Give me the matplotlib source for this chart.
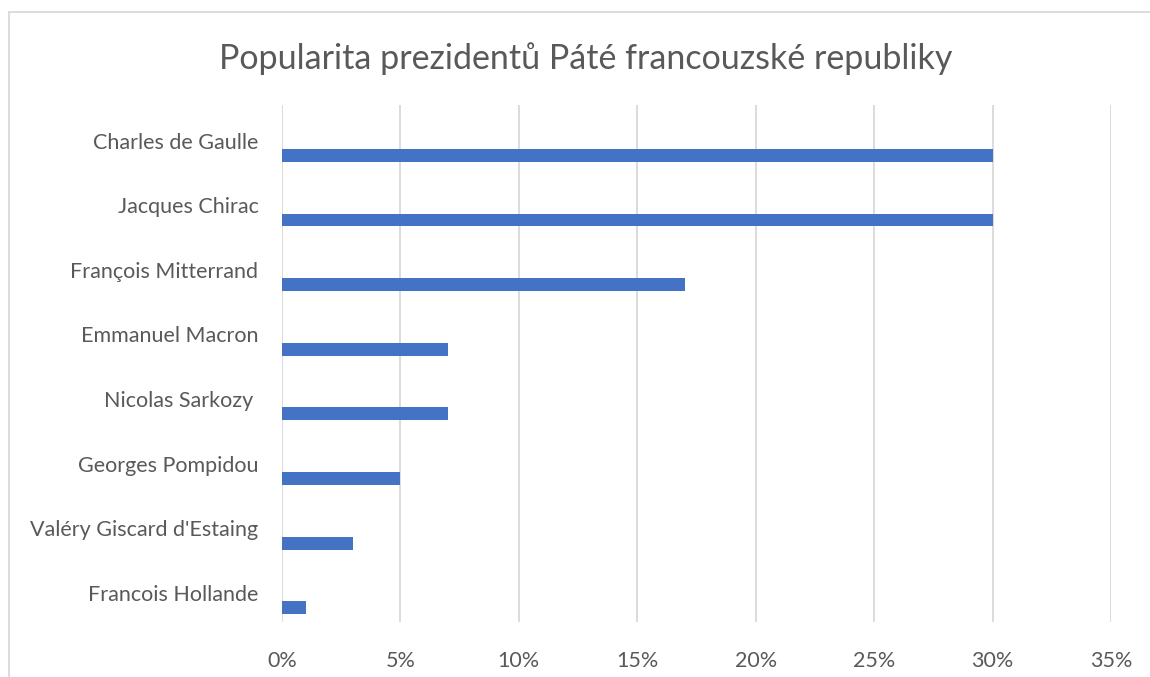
import matplotlib
matplotlib.use("Agg")
import matplotlib.pyplot as plt
from matplotlib.patches import Rectangle
from matplotlib.ticker import FuncFormatter

names = ["Charles de Gaulle", "Jacques Chirac", "François Mitterrand", "Emmanuel Macron",
         "Nicolas Sarkozy ", "Georges Pompidou", "Valéry Giscard d'Estaing", "Francois Hollande"]
values = [30, 30, 17, 7, 7, 5, 3, 1]
xticks = [0, 5, 10, 15, 20, 25, 30, 35]
title = "Popularita prezidentů Páté francouzské republiky"

plt.rcParams['font.family'] = ['Lato', 'DejaVu Sans']
W, H = 1150, 677
fig = plt.figure(figsize=(W / 100, H / 100), dpi=100)
fig.patch.set_facecolor('white')

# chart border (left and top visible; right/bottom run off the image)
fig.patches.append(Rectangle((9 / W, -0.01), 1.05, 1 - 12 / H + 0.01,
                             transform=fig.transFigure, fill=False,
                             edgecolor='#d9d9d9', linewidth=1.3))

left, right, top, bottom = 282, 1111, 105, 622
ax = fig.add_axes([left / W, 1 - bottom / H, (right - left) / W, (bottom - top) / H])

n = len(names)
pos = list(range(n))  # 0 at top
ax.barh([p + 0.28 for p in pos], values, height=0.2, color='#4472C4', zorder=3)
ax.set_ylim(n - 0.5, -0.5)
ax.set_xlim(0, 35)
ax.set_yticks([p + 0.05 for p in pos])
ax.set_yticklabels(names)
ax.set_xticks(xticks)
ax.xaxis.set_major_formatter(FuncFormatter(lambda v, _: f"{int(v)}%"))
ax.tick_params(axis='both', length=0, labelsize=15.5, labelcolor='#595959')
ax.tick_params(axis='y', pad=17)
ax.tick_params(axis='x', pad=21)
ax.grid(axis='x', color='#d9d9d9', linewidth=1.3, zorder=0)
for s in ax.spines.values():
    s.set_visible(False)

fig.text(586 / W, 1 - 59 / H, title, ha='center', va='center', fontsize=24.5, color='#595959')

fig.savefig("out.png", dpi=100)
